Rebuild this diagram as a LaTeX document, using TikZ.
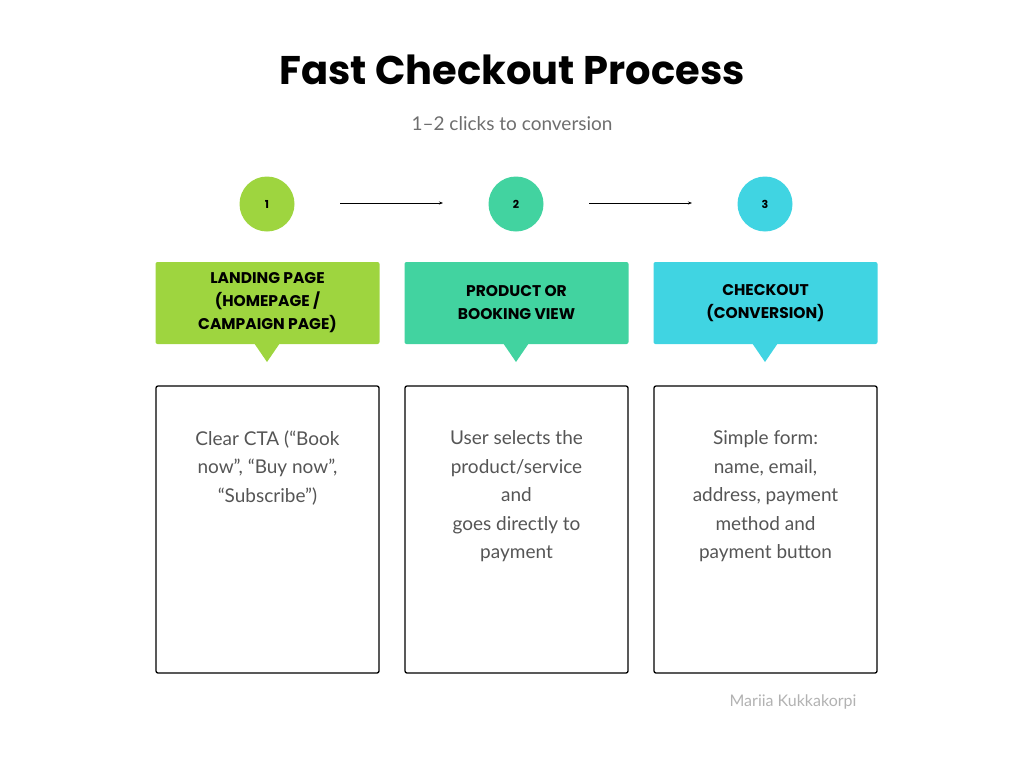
\documentclass[tikz,border=0pt]{standalone}
\usepackage{fontspec}
\setmainfont{Lato}
\newfontfamily\pop{Poppins}
\usetikzlibrary{arrows.meta}
\definecolor{cA}{HTML}{9ED53F}
\definecolor{cB}{HTML}{42D3A0}
\definecolor{cC}{HTML}{40D4E2}
\definecolor{txt}{HTML}{555555}
\begin{document}
\begin{tikzpicture}[x=1pt,y=-1pt,
  circ/.style={circle,minimum size=55pt,inner sep=0pt,font=\pop\fontsize{11}{13}\selectfont\bfseries},
  lab/.style={minimum width=224pt,minimum height=82pt,rounded corners=2pt,align=center,inner sep=0pt,font=\pop\fontsize{15.5}{23}\selectfont\bfseries},
  body/.style={draw=black,line width=1.3pt,rounded corners=2pt,minimum width=223pt,minimum height=287pt},
  btxt/.style={text=txt,align=center,anchor=north,font=\fontsize{19}{28.5}\selectfont},
  arr/.style={-{Stealth[length=4pt,width=3pt]},line width=0.7pt}]
\useasboundingbox (0,0) rectangle (1024,768);
\node (t) at (512,70) {\pop\fontsize{40}{48}\selectfont\bfseries Fast Checkout Process};
\node[text=txt!85] (s) at (512,124) {\fontsize{19}{22}\selectfont 1–2 clicks to conversion};
\foreach \i/\x/\c/\l in {1/267/cA/{LANDING PAGE\\(HOMEPAGE /\\CAMPAIGN PAGE)},2/516/cB/{PRODUCT OR\\BOOKING VIEW},3/765/cC/{CHECKOUT\\(CONVERSION)}}{
  \node[circ,fill=\c] (c\i) at (\x,204) {\i};
  \node[lab,fill=\c] (l\i) at (\x+0.5,303) {\l};
  \fill[\c] (\x-13,343) -- (\x+13,343) -- (\x,362) -- cycle;
  \node[body] (b\i) at (\x+0.5,529.5) {};
}
\coordinate (a1s) at (340,203); \coordinate (a1e) at (443,203);
\coordinate (a2s) at (589,203); \coordinate (a2e) at (692,203);
\draw[arr] (a1s) -- (a1e);
\draw[arr] (a2s) -- (a2e);
\node[btxt] (x1) at (b1.north |- 0,427) {Clear CTA (“Book\\now”, “Buy now”,\\“Subscribe”)};
\node[btxt] (x2) at (b2.north |- 0,427) {User selects the\\product/service\\and\\goes directly to\\payment};
\node[btxt] (x3) at (b3.north |- 0,427) {Simple form:\\name, email,\\address, payment\\method and\\payment button};
\node[text=black!30] (sig) at (793,702) {\fontsize{16}{18}\selectfont Mariia Kukkakorpi};
\end{tikzpicture}
\end{document}
